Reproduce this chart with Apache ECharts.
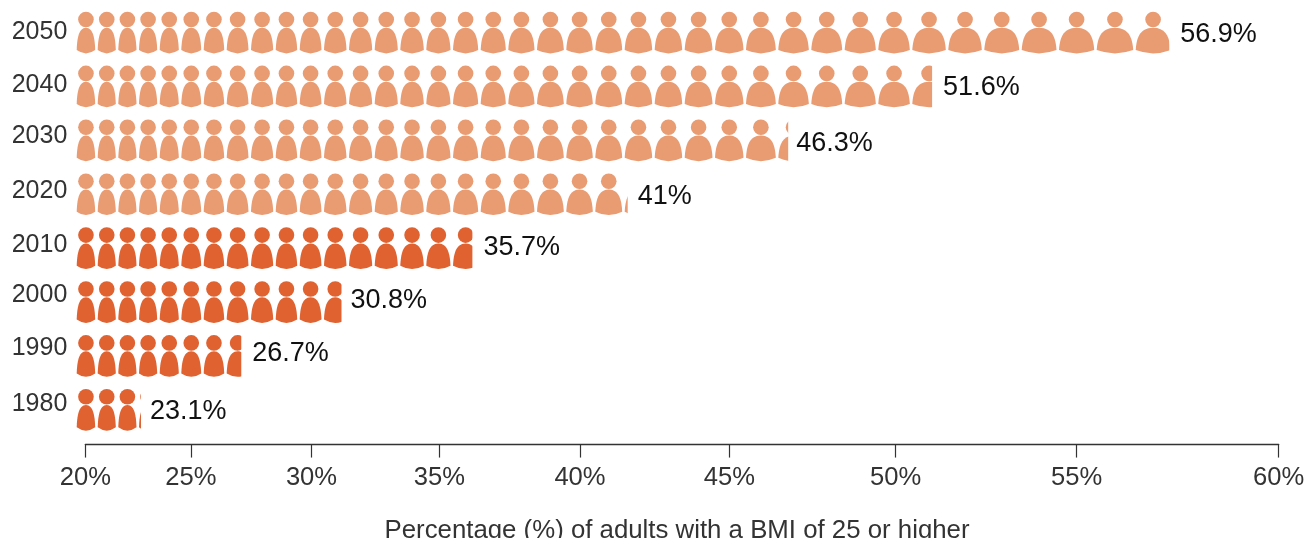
<!DOCTYPE html>
<html><head><meta charset="utf-8">
<style>html,body{margin:0;padding:0;background:#fff}#c{width:1306px;height:538px}</style>
<script src="https://cdn.jsdelivr.net/npm/echarts@6/dist/echarts.min.js"></script>
</head><body><div id="c"></div>
<script>
// --- data ---
const years = ['1980','1990','2000','2010','2020','2030','2040','2050'];
const percent = [23.1,26.7,30.8,35.7,41,46.3,51.6,56.9];
const iconCounts = [3.1,7.6,11.7,16.7,22.1,27.3,31.55,37.9];
const tickPercent = [20,25,30,35,40,45,50,55,60];
// the source's x scale is not linear: warped position of each tick and width of each icon band
const tickWarp = [8.6,114.2,234.8,362.6,503.3,652.6,819,1000,1202];
const bandWidths = [21,20.6,20.7,20.7,21.6,22.4,23,24.3,24.7,24,24.3,25,25.7,25.6,26,26.7,27.7,27.6,28.7,29.3,29,29.4,30,30,30.3,31,32.3,33,33.4,33.6,34,36,36,37.4,37.3,37.7,39,37.3];
// --- style ---
const projectedFrom = 4;
const colorLight = '#E99B72', colorDark = '#DF6230';
const yearPad = [10.6,14.8,13,5.4,5.4,7.6,1.8,0];  // hand placed year labels
const labelDy = [2,-2,-1,-1,2,3,1,2.5];
const labelDx = [-1,1,-1,1,0,-2,1,1];
const gap = 2.5, headR = 7.8;
const bodyPath = 'M0 87C2 45 10 0 50 0C90 0 98 45 100 87Q50 113 0 87Z';

const bandStart = [0];
bandWidths.forEach((w,i)=>bandStart.push(bandStart[i]+w));
function countToWarp(u){
  const k=Math.floor(u);
  return bandStart[k]+(u-k)*bandWidths[k];
}
const rows = years.map((y,i)=>[i,iconCounts[i],percent[i]]);

function renderRow(params,api){
  const i=api.value(0), count=api.value(1), pct=api.value(2);
  const c=api.coord([0,i]);
  const top=c[1]-20.7;
  const fill=i>=projectedFrom?colorLight:colorDark;
  const endX=api.coord([countToWarp(count),i])[0];
  const icons=[];
  const n=Math.ceil(count);
  for(let k=0;k<n;k++){
    const x0=api.coord([bandStart[k],i])[0];
    const x1=api.coord([bandStart[k+1],i])[0]-gap;
    const cx=(x0+x1)/2;
    icons.push({type:'circle',shape:{cx:cx,cy:top+7.7,r:headR},style:{fill:fill}});
    icons.push({type:'path',shape:{pathData:bodyPath,x:x0,y:top+16,width:x1-x0,height:25.6,layout:'cover'},style:{fill:fill}});
  }
  return {type:'group',children:[
    {type:'group',children:icons,clipPath:{type:'rect',shape:{x:0,y:top-2,width:endX,height:46}}},
    {type:'text',x:endX+10+labelDx[i],y:c[1]+labelDy[i],style:{text:pct+'%',fill:'#111',font:'400 27px "Liberation Sans"',textAlign:'left',textVerticalAlign:'middle'}}
  ]};
}

const yearRich={};
years.forEach((y,i)=>{yearRich['y'+i]={color:'#333',fontFamily:'Liberation Sans',fontSize:25,padding:[0,0,yearPad[i],0]};});

const chart=echarts.init(document.getElementById('c'),null,{renderer:'canvas'});
chart.setOption({
  animation:false,
  backgroundColor:'#fff',
  grid:{left:85.3,right:27.3,top:5.55,height:431.2,containLabel:false,outerBoundsMode:'none'},
  xAxis:{type:'value',min:tickWarp[0],max:tickWarp[tickWarp.length-1],
    offset:7.8,
    name:'Percentage (%) of adults with a BMI of 25 or higher',
    nameLocation:'middle',nameGap:73,
    nameTextStyle:{color:'#333',fontFamily:'Liberation Sans',fontSize:25.8,padding:[0,10,0,0]},
    splitLine:{show:false},
    axisLine:{show:true,onZero:false,lineStyle:{color:'#333',width:1.3}},
    axisTick:{show:true,length:13,customValues:tickWarp,lineStyle:{color:'#333',width:1.2}},
    axisLabel:{show:true,margin:20,color:'#333',fontFamily:'Liberation Sans',fontSize:25.6,
      customValues:tickWarp,
      formatter:v=>{const j=tickWarp.findIndex(t=>Math.abs(t-v)<1e-6);return j>=0?tickPercent[j]+'%':'';}}
  },
  yAxis:{type:'category',data:years,
    axisLine:{show:false},axisTick:{show:false},
    axisLabel:{margin:18,rich:yearRich,formatter:v=>'{y'+years.indexOf(v)+'|'+v+'}'}
  },
  series:[{type:'custom',coordinateSystem:'cartesian2d',clip:false,
    encode:{x:1,y:0},data:rows,renderItem:renderRow}]
});
</script></body></html>
